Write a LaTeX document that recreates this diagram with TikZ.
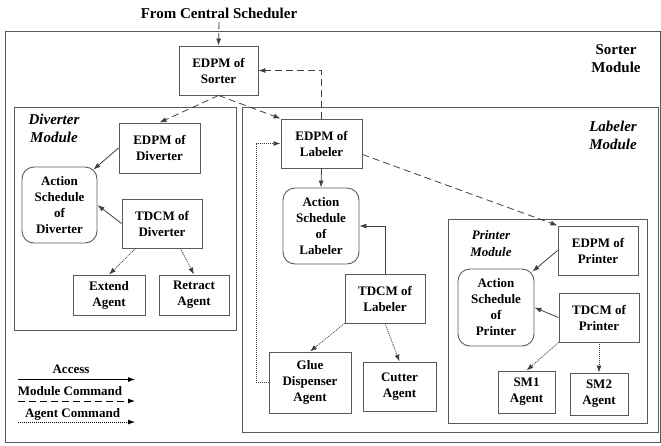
\documentclass[tikz,border=0pt]{standalone}
\usepackage{fontspec}
\setmainfont{Liberation Serif}
\usetikzlibrary{arrows.meta}

\begin{document}
\begin{tikzpicture}[x=1pt,y=-1pt,
        box/.style={draw=black!65,line width=0.9pt,align=center,inner sep=1pt,
            font=\fontsize{13}{16}\selectfont\bfseries},
        sched/.style={box,rounded corners=12pt},
        frame/.style={draw=black!65,line width=0.9pt},
        modlbl/.style={align=center,font=\fontsize{15}{18}\selectfont\bfseries},
        access/.style={draw=black!75,line width=0.8pt,-{Latex[length=7pt,width=5pt]}},
        modcmd/.style={access,dash pattern=on 7pt off 4pt},
        agentcmd/.style={access,dash pattern=on 1pt off 1pt}]

    \useasboundingbox (0,0) rectangle (661,445);

    % module frames
    \draw[frame] (5,31) rectangle (660.5,442);
    \draw[frame] (14,107) rectangle (236,330);
    \draw[frame] (242,107) rectangle (658,432);
    \draw[frame] (448,219) rectangle (647,423);

    \node[modlbl] (title) at (219,13) {From Central Scheduler};
    \node[modlbl] (sortlbl) at (616,59) {Sorter\\Module};
    \node[modlbl,font=\fontsize{15}{18}\selectfont\bfseries\itshape] (divlbl) at (54,128) {Diverter\\Module};
    \node[modlbl,font=\fontsize{15}{18}\selectfont\bfseries\itshape] (lablbl) at (613,135) {Labeler\\Module};
    \node[modlbl,font=\fontsize{13}{17}\selectfont\bfseries\itshape] (prilbl) at (491,244) {Printer\\Module};

    % sorter
    \node[box,minimum width=79pt,minimum height=49pt] (esorter) at (218.5,70.5) {EDPM of\\Sorter};

    % diverter
    \node[box,minimum width=81pt,minimum height=50pt] (ediv) at (159.5,148) {EDPM of\\Diverter};
    \node[sched,minimum width=75pt,minimum height=76pt] (adiv) at (59.5,205) {Action\\Schedule\\of\\Diverter};
    \node[box,minimum width=80pt,minimum height=49pt] (tdiv) at (162,223.5) {TDCM of\\Diverter};
    \node[box,minimum width=72pt,minimum height=40pt] (extend) at (109,295) {Extend\\Agent};
    \node[box,minimum width=70pt,minimum height=40pt] (retract) at (194,295) {Retract\\Agent};

    % labeler
    \node[box,minimum width=81pt,minimum height=49pt] (elab) at (321.5,143.5) {EDPM of\\Labeler};
    \node[sched,minimum width=76pt,minimum height=76pt] (alab) at (321,226) {Action\\Schedule\\of\\Labeler};
    \node[box,minimum width=80pt,minimum height=49pt] (tlab) at (385,298.5) {TDCM of\\Labeler};
    \node[box,minimum width=82pt,minimum height=61pt] (glue) at (310,382.5) {Glue\\Dispenser\\Agent};
    \node[box,minimum width=73pt,minimum height=49pt] (cutter) at (399.5,386.5) {Cutter\\Agent};

    % printer
    \node[box,minimum width=80pt,minimum height=49pt] (eprint) at (598,250.5) {EDPM of\\Printer};
    \node[sched,minimum width=76pt,minimum height=77pt] (aprint) at (496,307.5) {Action\\Schedule\\of\\Printer};
    \node[box,minimum width=80pt,minimum height=49pt] (tprint) at (599,317.5) {TDCM of\\Printer};
    \node[box,minimum width=57pt,minimum height=42pt] (smone) at (526.5,392) {SM1\\Agent};
    \node[box,minimum width=58pt,minimum height=42pt] (smtwo) at (599,394) {SM2\\Agent};

    % module commands
    \draw[modcmd] (title.south) -- (esorter.north);
    \draw[modcmd] (esorter.south) -- (ediv.north);
    \draw[modcmd] (esorter.south) -- (elab.north west);
    \draw[modcmd] (elab.north) |- (esorter.east);
    \draw[modcmd] (elab.-15) -- (eprint.north west);

    % access
    \draw[access] (ediv.west) -- ([shift={(-4,3)}]adiv.north east);
    \draw[access] (tdiv.west) -- (adiv.east);
    \draw[access] (elab.south) -- (alab.north);
    \draw[access] (tlab.north) |- (alab.east);
    \draw[access] (eprint.west) -- ([shift={(-2,3)}]aprint.north east);
    \draw[access] (tprint.west) -- (aprint.east);

    % agent commands
    \draw[agentcmd] ([xshift=14pt]tdiv.south west) -- (extend.north);
    \draw[agentcmd] ([xshift=-22pt]tdiv.south east) -- (retract.north);
    \draw[agentcmd] (tlab.south west) -- (glue.north);
    \draw[agentcmd] (tlab.south) -- (cutter.north);
    \draw[agentcmd] (glue.west) -- ++(-12,0) |- (elab.west);
    \draw[agentcmd] (tprint.south west) -- (smone.north);
    \draw[agentcmd] (tprint.south) -- (smtwo.north);

    % legend
    \coordinate (accA) at (18,379.5); \coordinate (accB) at (135,379.5);
    \coordinate (modA) at (18,401); \coordinate (modB) at (135,401);
    \coordinate (agtA) at (18,422); \coordinate (agtB) at (135,422);
    \node[font=\fontsize{13}{16}\selectfont\bfseries] (acclbl) at (71,369) {Access};
    \node[font=\fontsize{13}{16}\selectfont\bfseries] (modlbl) at (70,391) {Module Command};
    \node[font=\fontsize{13}{16}\selectfont\bfseries] (agtlbl) at (72.5,414) {Agent Command};
    \draw[access,draw=black] (accA) -- (accB);
    \draw[modcmd,draw=black] (modA) -- (modB);
    \draw[agentcmd,draw=black] (agtA) -- (agtB);
\end{tikzpicture}
\end{document}
